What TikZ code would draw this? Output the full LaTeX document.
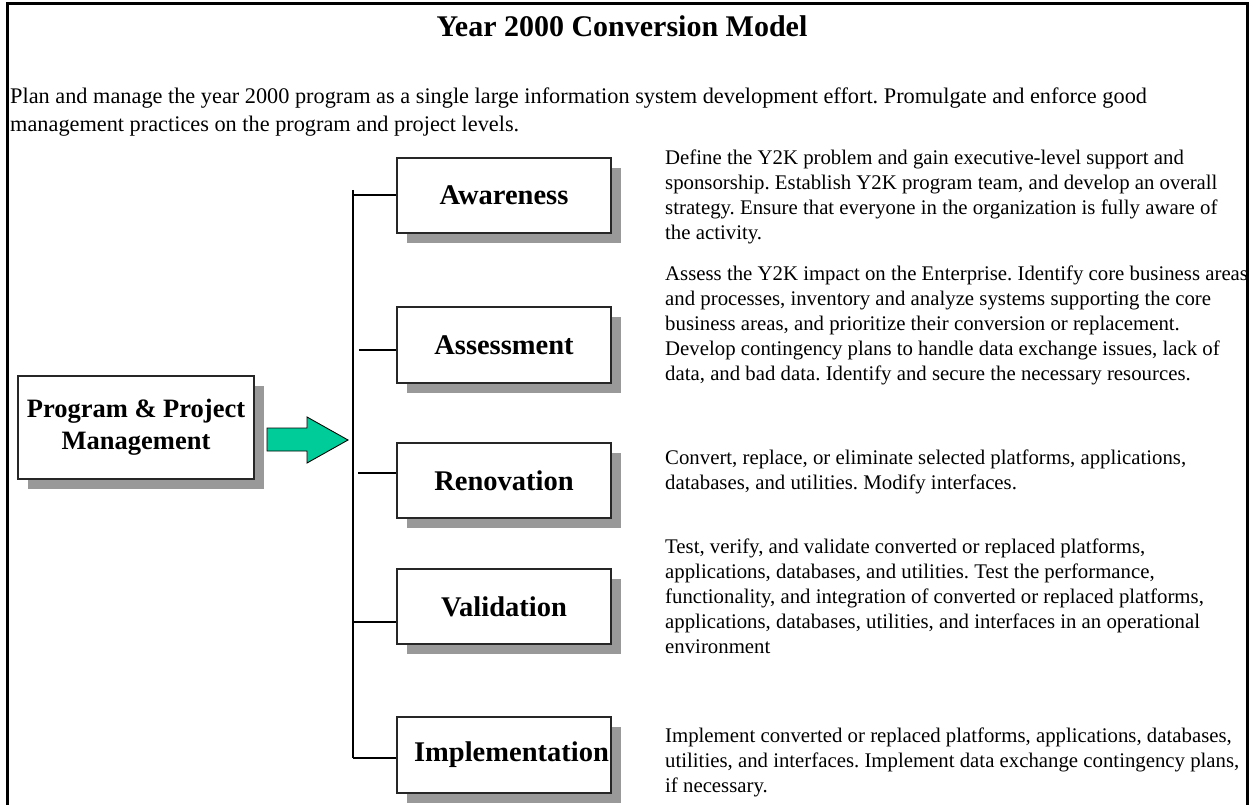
\documentclass[tikz,border=0pt]{standalone}
\usepackage{fontspec}
\setmainfont{Liberation Serif}
\usetikzlibrary{shadows}
\frenchspacing
\newcommand{\descfont}{\fontsize{20.8}{25}\selectfont}
\newcommand{\labfont}{\fontsize{28.5}{32}\selectfont\bfseries}
\begin{document}
\begin{tikzpicture}[x=1pt,y=-1pt,
  stagebox/.style={draw=black!85, line width=1.3pt, fill=white,
    drop shadow={shadow xshift=10pt, shadow yshift=-10pt, fill=black!40, opacity=1},
    minimum width=214pt, minimum height=75pt, inner sep=0pt, font=\labfont, align=center},
  desc/.style={anchor=base west, align=left, inner sep=0pt, font=\descfont},
  link/.style={line width=1.2pt, black},
  frame/.style={line width=3pt, black}]
\useasboundingbox (0,0) rectangle (1253,805);
% frame
\draw[frame] (7,815) -- (7,4) -- (1247,4) -- (1247,815);
% title and intro (base anchor = baseline of last line)
\node[anchor=base, inner sep=0pt, font=\fontsize{30}{34}\selectfont\bfseries] (title) at (622,37) {Year 2000 Conversion Model};
\node[anchor=base west, align=left, inner sep=0pt, font=\fontsize{22.3}{28}\selectfont] (intro) at (10,132)
 {Plan and manage the year 2000 program as a single large information system development effort. Promulgate and enforce good\\
  management practices on the program and project levels.};
% program box
\node[stagebox, minimum width=236pt, minimum height=103pt, font=\fontsize{26.5}{32}\selectfont\bfseries] (prog) at (136,427.5) {\raisebox{-3pt}{Program \& Project}\\\raisebox{-3pt}{Management}};
% block arrow
\draw[line width=0.9pt, fill={rgb,255:red,0;green,204;blue,153}] (267,428) -- (307,428) -- (307,417) -- (348,440) -- (307,463) -- (307,451) -- (267,451) -- cycle;
% stage boxes
\node[stagebox] (aw) at (504,195.5) {Awareness};
\node[stagebox, minimum height=76pt] (as) at (504,345) {Assessment};
\node[stagebox] (ren) at (504,480.5) {Renovation};
\node[stagebox] (val) at (504,606.5) {Validation};
\node[stagebox, minimum height=76pt] (imp) at (504,755) {\hspace*{15pt}Implementation};
% bracket
\coordinate (btop) at (353,190);
\coordinate (bbot) at (353,758);
\draw[link] (btop) -- (bbot);
\draw[link] (353,195) -- (aw.west |- 0,195);
\draw[link] (359,350) -- (as.west |- 0,350);
\draw[link] (358,473) -- (ren.west |- 0,473);
\draw[link] (353,622) -- (val.west |- 0,622);
\draw[link] (bbot) -- (imp.west |- 0,758);
% descriptions (base anchor = baseline of last line)
\node[desc] (awd) at (665,240) {Define the Y2K problem and gain executive-level support and\\
sponsorship. Establish Y2K program team, and develop an overall\\
strategy. Ensure that everyone in the organization is fully aware of\\
the activity.};
\node[desc] (asd) at (665,380) {Assess the Y2K impact on the Enterprise. Identify core business areas\\
and processes, inventory and analyze systems supporting the core\\
business areas, and prioritize their conversion or replacement.\\
Develop contingency plans to handle data exchange issues, lack of\\
data, and bad data. Identify and secure the necessary resources.};
\node[desc] (rend) at (665,489) {Convert, replace, or eliminate selected platforms, applications,\\
databases, and utilities. Modify interfaces.};
\node[desc] (vald) at (665,653) {Test, verify, and validate converted or replaced platforms,\\
applications, databases, and utilities. Test the performance,\\
functionality, and integration of converted or replaced platforms,\\
applications, databases, utilities, and interfaces in an operational\\
environment};
\node[desc] (impd) at (665,792) {Implement converted or replaced platforms, applications, databases,\\
utilities, and interfaces. Implement data exchange contingency plans,\\
if necessary.};
\end{tikzpicture}
\end{document}
